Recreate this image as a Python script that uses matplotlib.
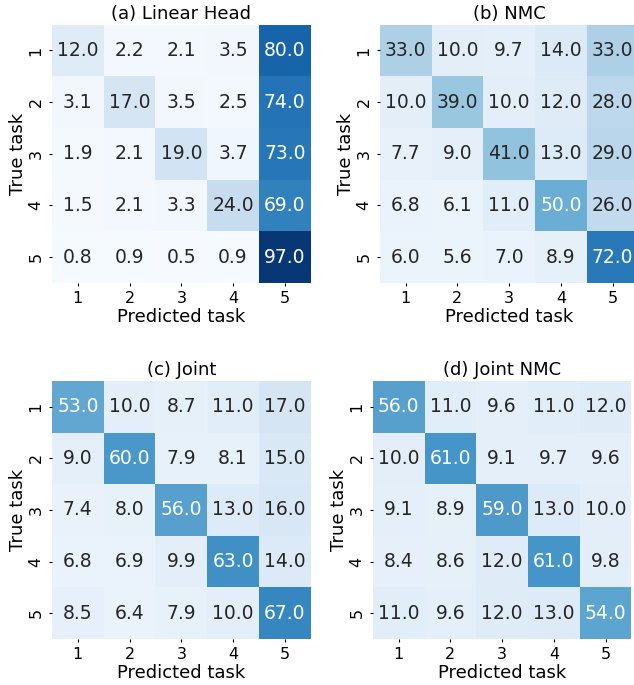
import numpy as np
import matplotlib
matplotlib.use("Agg")
import matplotlib.pyplot as plt
import seaborn as sns

tasks = ["1", "2", "3", "4", "5"]
titles = ["(a) Linear Head", "(b) NMC", "(c) Joint", "(d) Joint NMC"]

linear_head = [
    [12.0, 2.2, 2.1, 3.5, 80.0],
    [3.1, 17.0, 3.5, 2.5, 74.0],
    [1.9, 2.1, 19.0, 3.7, 73.0],
    [1.5, 2.1, 3.3, 24.0, 69.0],
    [0.8, 0.9, 0.5, 0.9, 97.0],
]
nmc = [
    [33.0, 10.0, 9.7, 14.0, 33.0],
    [10.0, 39.0, 10.0, 12.0, 28.0],
    [7.7, 9.0, 41.0, 13.0, 29.0],
    [6.8, 6.1, 11.0, 50.0, 26.0],
    [6.0, 5.6, 7.0, 8.9, 72.0],
]
joint = [
    [53.0, 10.0, 8.7, 11.0, 17.0],
    [9.0, 60.0, 7.9, 8.1, 15.0],
    [7.4, 8.0, 56.0, 13.0, 16.0],
    [6.8, 6.9, 9.9, 63.0, 14.0],
    [8.5, 6.4, 7.9, 10.0, 67.0],
]
joint_nmc = [
    [56.0, 11.0, 9.6, 11.0, 12.0],
    [10.0, 61.0, 9.1, 9.7, 9.6],
    [9.1, 8.9, 59.0, 13.0, 10.0],
    [8.4, 8.6, 12.0, 61.0, 9.8],
    [11.0, 9.6, 12.0, 13.0, 54.0],
]

matrices = [linear_head, nmc, joint, joint_nmc]

# axes boxes (left, bottom, width, height) in figure fractions
boxes = [
    (0.082, 0.587, 0.408, 0.377),
    (0.599, 0.587, 0.408, 0.377),
    (0.082, 0.067, 0.408, 0.377),
    (0.588, 0.067, 0.408, 0.377),
]

fig = plt.figure(figsize=(6.34, 6.85), dpi=100)

for mat, title, box in zip(matrices, titles, boxes):
    ax = fig.add_axes(box)
    sns.heatmap(np.array(mat), ax=ax, annot=True, fmt=".1f", cmap="Blues",
                vmin=0, vmax=100, cbar=False, square=False,
                annot_kws={"size": 13.5},
                xticklabels=tasks, yticklabels=tasks)
    ax.set_title(title, fontsize=13, pad=4)
    ax.set_xlabel("Predicted task", fontsize=13, labelpad=1)
    ax.set_ylabel("True task", fontsize=13, labelpad=1)
    ax.tick_params(axis="both", labelsize=11.5, length=2.5, pad=3.5)
    plt.setp(ax.get_yticklabels(), rotation=90, va="center")
    plt.setp(ax.get_xticklabels(), rotation=0)

plt.savefig("out.png", dpi=100)
